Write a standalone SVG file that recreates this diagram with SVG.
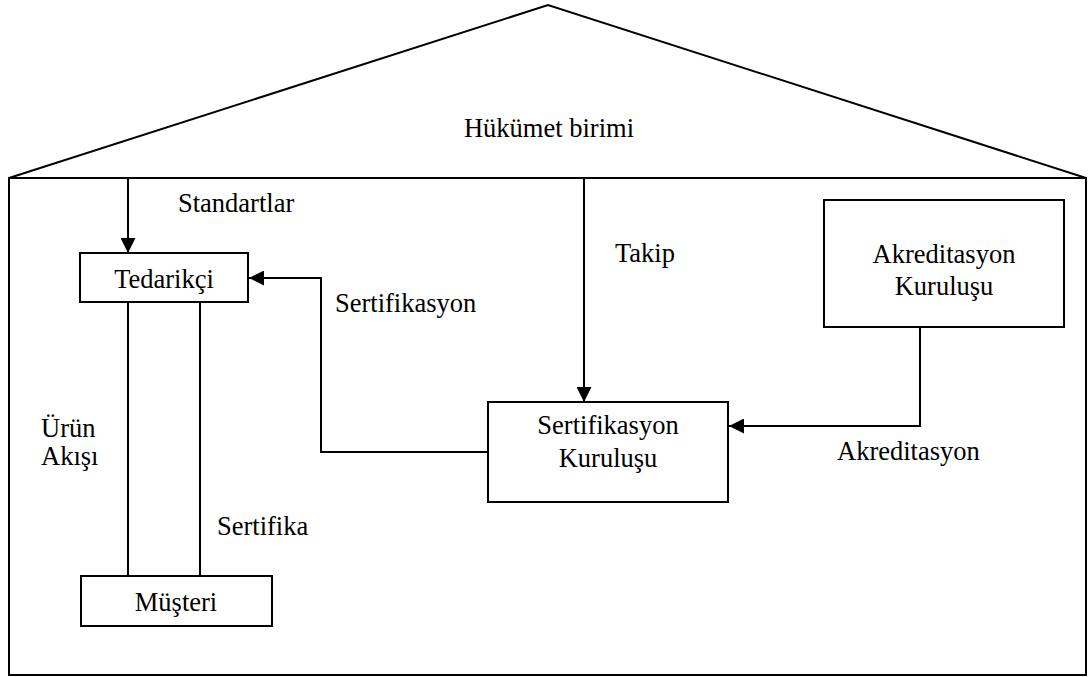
<svg xmlns="http://www.w3.org/2000/svg" width="1088" height="677" viewBox="0 0 1088 677">
<style>
.ln{fill:none;stroke:#000;stroke-width:2}
.bx{fill:#fff;stroke:#000;stroke-width:2}
text{font-family:"Liberation Serif","Times New Roman",serif;font-size:26.5px;fill:#000}
.c{text-anchor:middle}
</style>
<defs>
<marker id="ah" markerWidth="15" markerHeight="15" refX="15" refY="7.5" orient="auto" markerUnits="userSpaceOnUse">
<path d="M0,0 L15,7.5 L0,15 Z" fill="#000"/>
</marker>
</defs>
<rect width="1088" height="677" fill="#fff"/>
<g id="building">
<polyline class="ln" points="9,178 548,5 1086,178"/>
<rect class="ln" x="9" y="178" width="1077" height="497"/>
<text class="c" x="549" y="137">Hükümet birimi</text>
</g>
<g id="connectors">
<line class="ln" x1="128" y1="178" x2="128" y2="253" marker-end="url(#ah)"/>
<line class="ln" x1="584" y1="178" x2="584" y2="402" marker-end="url(#ah)"/>
<polyline class="ln" points="490,452 321,452 321,278 249,278" marker-end="url(#ah)"/>
<polyline class="ln" points="920,327 920,426 729,426" marker-end="url(#ah)"/>
<line class="ln" x1="128" y1="302" x2="128" y2="576"/>
<line class="ln" x1="200" y1="302" x2="200" y2="576"/>
<text x="178" y="212">Standartlar</text>
<text x="615" y="262">Takip</text>
<text x="335" y="312">Sertifikasyon</text>
<text x="837" y="460">Akreditasyon</text>
<text x="41" y="437">Ürün</text>
<text x="41" y="465">Akışı</text>
<text x="217" y="535">Sertifika</text>
</g>
<g id="tedarikci">
<rect class="bx" x="80" y="253" width="168" height="49"/>
<text class="c" x="164" y="288">Tedarikçi</text>
</g>
<g id="sertifikasyon-kurulusu">
<rect class="bx" x="488" y="402" width="240" height="100"/>
<text class="c" x="608" y="434">Sertifikasyon</text>
<text class="c" x="608" y="467">Kuruluşu</text>
</g>
<g id="akreditasyon-kurulusu">
<rect class="bx" x="824" y="200" width="240" height="127"/>
<text class="c" x="944" y="263">Akreditasyon</text>
<text class="c" x="944" y="295">Kuruluşu</text>
</g>
<g id="musteri">
<rect class="bx" x="81" y="576" width="191" height="50"/>
<text class="c" x="176" y="611">Müşteri</text>
</g>
</svg>
